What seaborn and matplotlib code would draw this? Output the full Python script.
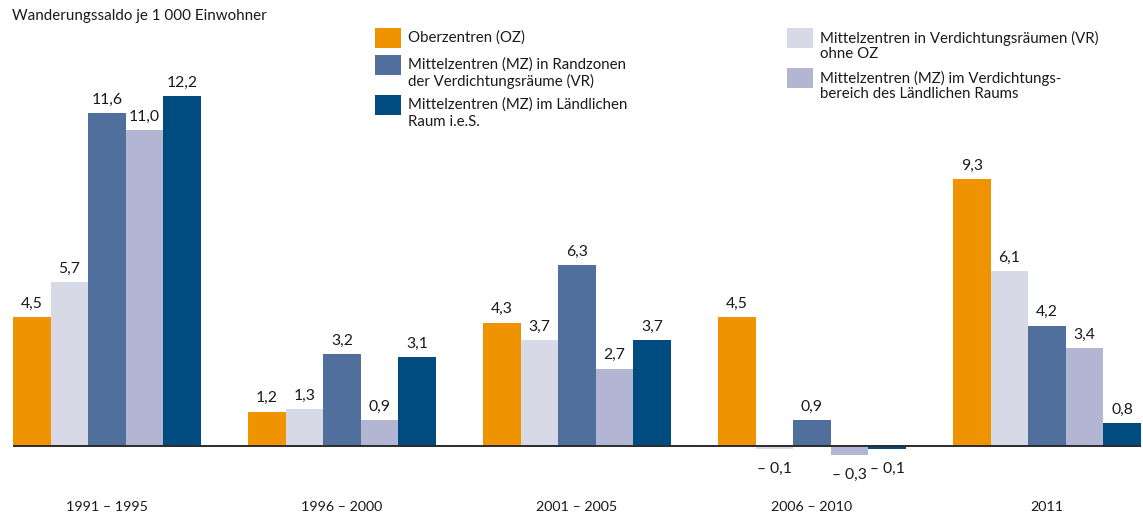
import matplotlib
matplotlib.use("Agg")
import matplotlib.pyplot as plt
from matplotlib.patches import Rectangle
import seaborn as sns
import pandas as pd

periods = ["1991 – 1995", "1996 – 2000", "2001 – 2005", "2006 – 2010", "2011"]
series = [
    "Oberzentren (OZ)",
    "Mittelzentren in Verdichtungsräumen (VR)\nohne OZ",
    "Mittelzentren (MZ) in Randzonen\nder Verdichtungsräume (VR)",
    "Mittelzentren (MZ) im Verdichtungs-\nbereich des Ländlichen Raums",
    "Mittelzentren (MZ) im Ländlichen\nRaum i.e.S.",
]
oz = [4.5, 1.2, 4.3, 4.5, 9.3]
mz_vr = [5.7, 1.3, 3.7, -0.1, 6.1]
mz_rand = [11.6, 3.2, 6.3, 0.9, 4.2]
mz_vb = [11.0, 0.9, 2.7, -0.3, 3.4]
mz_lr = [12.2, 3.1, 3.7, -0.1, 0.8]
values = [oz, mz_vr, mz_rand, mz_vb, mz_lr]
colors = ["#F09300", "#D8D9E7", "#506F9C", "#B2B6D2", "#004B80"]
title = "Wanderungssaldo je 1 000 Einwohner"

rows = []
for s, vals in zip(series, values):
    for p, v in zip(periods, vals):
        rows.append({"period": p, "type": s, "value": v})
df = pd.DataFrame(rows)

sns.set_style("white")
plt.rcParams["font.family"] = ["Lato", "DejaVu Sans"]

W, H = 1143, 517
fig = plt.figure(figsize=(W / 100, H / 100), dpi=100)
# axes: x from px 13 to 1141, y scale so that 0 at px 446, 12.2 at px 96
ppu = (446 - 96) / 12.2
ylo, yhi = -1.0, 12.8
bot_px = 446 + (-ylo) * ppu
top_px = 446 - yhi * ppu
ax = fig.add_axes([13 / W, (H - bot_px) / H, 1128 / W, (bot_px - top_px) / H])

sns.barplot(data=df, x="period", y="value", hue="type", order=periods,
            hue_order=series, palette=colors, saturation=1, width=0.8,
            errorbar=None, legend=False, ax=ax, zorder=2, linewidth=0)

ax.set_xlim(-0.4, 4.4)
ax.set_ylim(ylo, yhi)
ax.axis("off")
ax.axhline(0, color="#2b2b2b", lw=1.4, zorder=3)

def fmt(v):
    s = f"{abs(v):.1f}".replace(".", ",")
    return s if v >= 0 else "– " + s

for cont, vals in zip(ax.containers, values):
    for bar, v in zip(cont.patches, vals):
        xc = bar.get_x() + bar.get_width() / 2
        if v >= 0:
            ax.annotate(fmt(v), (xc, v), xytext=(0, 4.5), textcoords="offset points",
                        ha="center", va="bottom", fontsize=11.3, color="#1a1a1a")
        else:
            ax.annotate(fmt(v), (xc, v), xytext=(0, -9.5), textcoords="offset points",
                        ha="center", va="top", fontsize=11.3, color="#1a1a1a")

for i, p in enumerate(periods):
    ax.text(i, -(507 - 446) / ppu, p, ha="center", va="center", fontsize=10.3,
            color="#1a1a1a", clip_on=False)

fig.text(12 / W, 1 - 16 / H, title, ha="left", va="center", fontsize=10.9,
         color="#1a1a1a")

# legend (two columns), handle aligned with first text line
leg_items = [(0, 375, 28, 408), (2, 375, 55, 408), (4, 375, 95, 408),
             (1, 787, 28, 820), (3, 787, 68, 820)]
pw, ph, lh = 26, 20, 16.5
for idx, px, py, tx in leg_items:
    fig.add_artist(Rectangle((px / W, 1 - (py + ph) / H), pw / W, ph / H,
                             transform=fig.transFigure, facecolor=colors[idx],
                             edgecolor="none"))
    for j, line in enumerate(series[idx].split("\n")):
        fig.text(tx / W, 1 - (py + ph / 2 + j * lh) / H, line, ha="left",
                 va="center", fontsize=10.8, color="#1a1a1a")

fig.savefig("out.png", dpi=100)
